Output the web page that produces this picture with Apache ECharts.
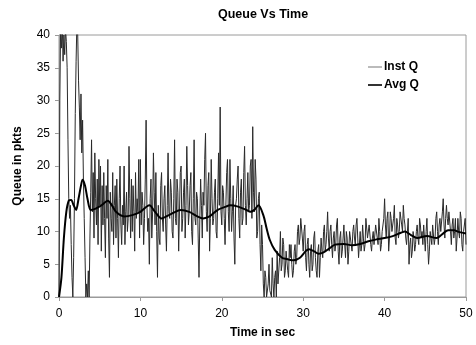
<!DOCTYPE html>
<html>
<head>
<meta charset="utf-8">
<script src="https://cdn.jsdelivr.net/npm/echarts@6/dist/echarts.min.js"></script>
<style>html,body{margin:0;padding:0;background:#fff}#c{width:476px;height:345px}</style>
</head>
<body>
<div id="c"></div>
<script>
const titleText = "Queue Vs Time";
const xAxisName = "Time in sec";
const yAxisName = "Queue in pkts";
const seriesNames = ["Inst Q", "Avg Q"];

// Instantaneous queue, sampled every 0.1 s from t = 0 (one row per second)
const instStart = 0;
const instStep = 0.1;
const instQ = [
  0, 30, 41, 38, 42, 36, 40, 37, 41, 39,
  35, 24, 15, 12, 14, 8, 3, 0, 6, 15,
  28, 36, 42, 40, 33, 29, 24, 31, 22, 27,
  18, 12, 6, 0, 2, 0, 4, 0, 9, 16,
  24, 13, 19, 9, 22, 15, 11, 18, 8, 21,
  14, 20, 7, 17, 11, 19, 12, 6, 17, 12,
  21, 9, 3, 16, 12, 10, 19, 8, 14, 17,
  9, 18, 12, 6, 15, 20, 11, 8, 14, 11,
  20, 8, 13, 16, 10, 12, 23, 15, 9, 18,
  10, 17, 13, 7, 19, 12, 15, 13, 21, 9,
  21, 11, 16, 14, 8, 12, 18, 27, 14, 10,
  12, 5, 15, 18, 9, 13, 22, 16, 11, 19,
  10, 3, 14, 9, 8, 17, 19, 12, 10, 15,
  17, 11, 7, 14, 22, 13, 12, 18, 16, 10,
  9, 15, 24, 12, 11, 18, 16, 7, 13, 19,
  20, 10, 12, 16, 18, 9, 14, 23, 17, 11,
  13, 17, 19, 10, 8, 15, 24, 12, 11, 16,
  15, 9, 3, 12, 18, 14, 9, 16, 14, 21,
  25, 13, 10, 17, 19, 7, 12, 21, 15, 11,
  12, 16, 18, 10, 9, 15, 22, 14, 29, 13,
  11, 17, 16, 12, 8, 14, 19, 21, 13, 10,
  21, 15, 10, 13, 17, 9, 5, 14, 15, 18,
  20, 12, 9, 16, 18, 11, 12, 19, 23, 14,
  11, 15, 19, 13, 14, 20, 21, 12, 26, 16,
  13, 21, 18, 9, 10, 15, 16, 8, 4, 11,
  8, 2, 0, 4, 3, 0, 0, 2, 5, 1,
  1, 0, 6, 2, 0, 3, 4, 0, 7, 2,
  2, 6, 10, 4, 5, 9, 8, 3, 4, 7,
  7, 4, 3, 8, 6, 8, 5, 3, 4, 7,
  8, 5, 6, 10, 11, 8, 9, 12, 12, 9,
  7, 10, 11, 6, 4, 8, 9, 5, 3, 7,
  8, 4, 5, 9, 10, 6, 4, 3, 7, 8,
  3, 6, 9, 7, 6, 10, 11, 7, 8, 10,
  13, 9, 7, 10, 11, 8, 6, 9, 10, 7,
  8, 11, 12, 7, 5, 9, 10, 6, 7, 9,
  11, 8, 6, 10, 9, 5, 7, 10, 10, 8,
  7, 10, 11, 9, 8, 11, 12, 9, 6, 8,
  10, 7, 8, 11, 9, 7, 8, 12, 12, 9,
  9, 11, 11, 8, 7, 9, 10, 8, 8, 11,
  11, 9, 8, 12, 10, 7, 8, 10, 10, 12,
  15, 11, 9, 12, 13, 7, 9, 13, 12, 10,
  10, 12, 14, 9, 8, 12, 11, 9, 10, 13,
  13, 11, 10, 14, 12, 11, 9, 8, 10, 12,
  5, 8, 9, 6, 7, 10, 9, 7, 8, 10,
  11, 9, 8, 12, 11, 9, 10, 8, 11, 9,
  7, 10, 12, 8, 5, 7, 10, 9, 8, 11,
  11, 8, 9, 12, 13, 10, 8, 11, 12, 10,
  10, 13, 15, 11, 9, 12, 14, 12, 11, 13,
  13, 10, 8, 11, 12, 9, 10, 12, 7, 9,
  12, 10, 9, 13, 12, 8, 7, 10, 10, 12,
  8
];

// Average queue (time, value)
const avgT = [0, 0.3, 0.6, 0.9, 1.2, 1.5, 1.8, 2.1, 2.4, 2.7, 2.9, 3.2, 3.5, 3.9, 4.5, 5.2, 6.0, 6.5, 7.0, 8.0, 9.0, 10.0, 11.1, 11.8, 12.6, 13.5, 15.0, 16.0, 17.0, 17.7, 18.5, 19.5, 20.5, 21.0, 22.0, 23.0, 23.5, 24.0, 24.5, 25.1, 25.5, 25.9, 26.5, 27.4, 28.0, 28.8, 29.6, 30.3, 30.7, 31.3, 31.9, 32.5, 33.2, 33.9, 35.0, 36.0, 37.0, 38.0, 39.0, 40.0, 41.0, 42.0, 42.5, 43.2, 44.0, 45.2, 46.4, 47.0, 47.8, 48.5, 49.2, 50.0];
const avgQ = [0, 3, 9, 13, 14.7, 14.8, 14, 13.3, 15, 17, 17.9, 17, 15, 13.3, 13.5, 14, 14.7, 14, 13, 12.3, 12.5, 13, 14, 13, 12, 12.5, 13.3, 13, 12.3, 12, 12.3, 13.3, 13.8, 14, 13.8, 13.3, 13, 13.3, 14, 12.5, 10.5, 8.7, 7.2, 6, 5.8, 5.6, 6, 7.0, 7.3, 7.0, 6.6, 6.8, 7.4, 8.0, 8.1, 7.9, 8.1, 8.5, 8.8, 9.0, 9.3, 9.8, 10.0, 9.5, 9.0, 9.3, 9.0, 9.5, 10.2, 10.2, 9.9, 9.7];

const yTicks = {min: 0, max: 40, interval: 5};
const xTicks = {min: 0, max: 50, interval: 10};

const instData = instQ.map((v, i) => [+(instStart + i * instStep).toFixed(2), v]);
const avgData = avgT.map((t, i) => [t, avgQ[i]]);

const font = "Liberation Sans, Arial, sans-serif";
const chart = echarts.init(document.getElementById('c'), null, {renderer: 'canvas'});
chart.setOption({
  animation: false,
  backgroundColor: '#fff',
  title: {
    text: titleText, left: 213, top: 3,
    textStyle: {fontFamily: font, fontSize: 12.5, fontWeight: 'bold', color: '#000'}
  },
  legend: {
    orient: 'vertical', left: 363, top: 56, itemGap: 6,
    itemWidth: 14, itemHeight: 10,
    textStyle: {fontFamily: font, fontSize: 12, fontWeight: 'bold', color: '#000', padding: [0, 0, 0, -3]},
    data: [
      {name: seriesNames[0], icon: 'path://M0,4.6L14,4.6L14,5.4L0,5.4Z', itemStyle: {color: '#555'}},
      {name: seriesNames[1], icon: 'path://M0,4.2L14,4.2L14,5.8L0,5.8Z', itemStyle: {color: '#000'}}
    ]
  },
  grid: {
    left: 59, right: 10, top: 35, bottom: 48, show: true,
    borderColor: '#9a9a9a', borderWidth: 1, backgroundColor: 'transparent'
  },
  xAxis: {
    type: 'value', min: xTicks.min, max: xTicks.max, interval: xTicks.interval,
    name: xAxisName, nameLocation: 'middle', nameGap: 30,
    nameTextStyle: {fontFamily: font, fontSize: 12, fontWeight: 'bold', color: '#000'},
    axisLine: {show: true, lineStyle: {color: '#9a9a9a', width: 1}},
    axisTick: {show: true, length: 4, lineStyle: {color: '#9a9a9a'}},
    axisLabel: {fontFamily: font, fontSize: 12, color: '#000', margin: 11},
    splitLine: {show: false}
  },
  yAxis: {
    type: 'value', min: yTicks.min, max: yTicks.max, interval: yTicks.interval,
    name: yAxisName, nameLocation: 'middle', nameGap: 35,
    nameTextStyle: {fontFamily: font, fontSize: 12, fontWeight: 'bold', color: '#000'},
    axisLine: {show: true, lineStyle: {color: '#9a9a9a', width: 1}},
    axisTick: {show: true, length: 4, lineStyle: {color: '#9a9a9a'}},
    axisLabel: {fontFamily: font, fontSize: 12, color: '#000', margin: 9},
    splitLine: {show: false}
  },
  series: [
    {
      name: seriesNames[0], type: 'line', data: instData, showSymbol: false, symbol: 'none',
      clip: true, lineStyle: {color: '#2a2a2a', width: 1}, itemStyle: {color: '#555'}, z: 2
    },
    {
      name: seriesNames[1], type: 'line', data: avgData, showSymbol: false, symbol: 'none',
      smooth: 0.3, clip: true, lineStyle: {color: '#000', width: 2}, itemStyle: {color: '#000'}, z: 3
    }
  ]
});
</script>
</body>
</html>
